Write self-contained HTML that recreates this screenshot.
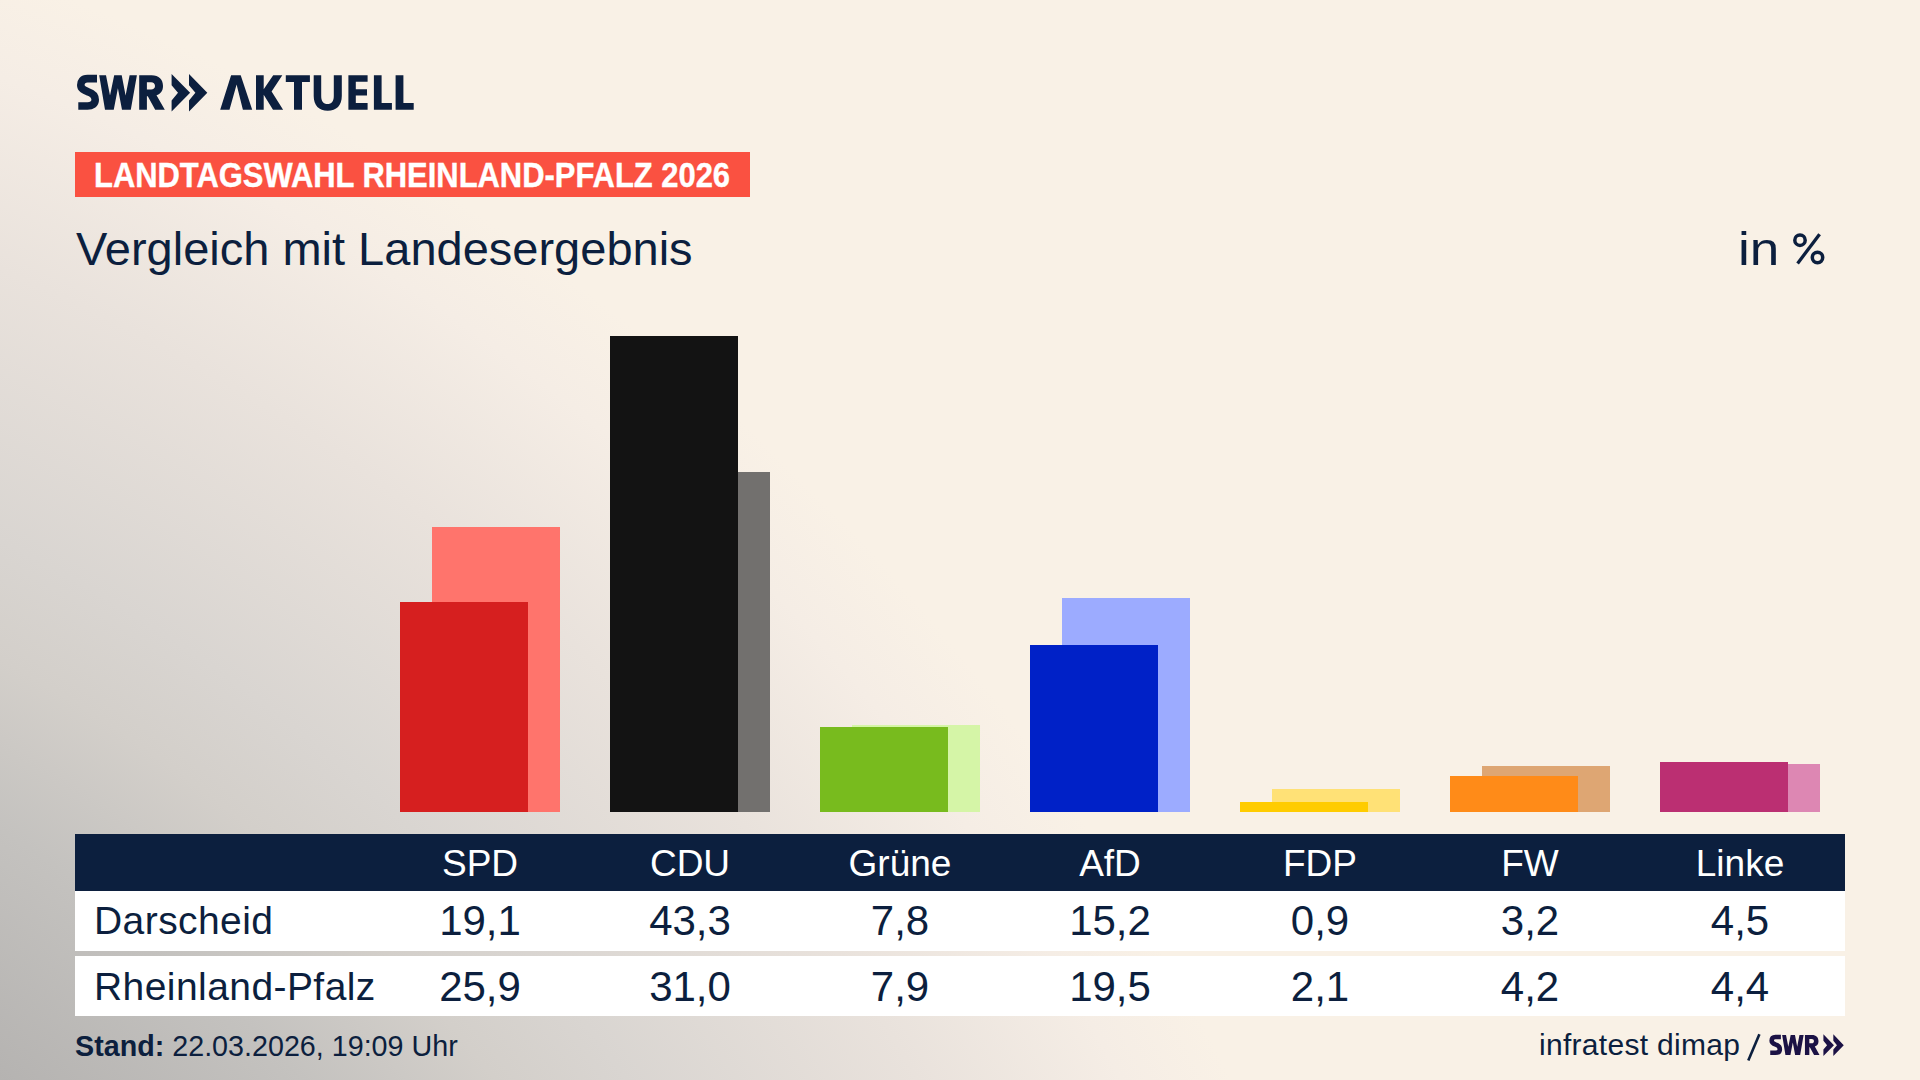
<!DOCTYPE html>
<html><head><meta charset="utf-8">
<style>
html,body{margin:0;padding:0;}
body{width:1920px;height:1080px;overflow:hidden;position:relative;
 font-family:"Liberation Sans",sans-serif;color:#0C1F3E;
 background:#F9F1E6;}
#bg{position:absolute;left:0;top:0;width:1920px;height:1080px;
 background:radial-gradient(circle 2200px at -747px 2041px,#A9A7A6 45%,#B5B3B1 55.3%,#C4C2BF 64.7%,#D3CFCA 71.4%,#D9D5D1 76.2%,#E9E2DC 87.4%,#F5EDE5 95.5%,#F9F1E6 100%);}
.abs{position:absolute;white-space:pre;}
#logo{position:absolute;left:0;top:0;}
#tag{position:absolute;left:75px;top:152px;width:675px;height:45px;background:#FA5141;}
#tagtxt{position:absolute;left:93.5px;top:154.5px;font-weight:bold;font-size:34.5px;color:#fff;line-height:40px;transform:scaleX(0.896);transform-origin:0 0;-webkit-text-stroke:0.4px #fff;}
#title{left:76px;top:222px;font-size:47px;line-height:54px;}
#unit{left:1737.5px;top:222px;font-size:47px;line-height:54px;}
.bar{position:absolute;}
#thead{position:absolute;left:75px;top:834px;width:1770px;height:57px;background:#0C1F3E;}
.row{position:absolute;left:75px;width:1770px;background:#fff;}
.hd{position:absolute;top:840.5px;width:210px;text-align:center;font-size:37px;line-height:46px;color:#fff;}
.num{position:absolute;width:210px;text-align:center;font-size:42px;line-height:48px;}
.lbl{position:absolute;left:94px;font-size:39px;line-height:48px;letter-spacing:0.43px;}
#foot1{left:75px;top:1029px;font-size:28.7px;line-height:34px;}
#foot2{left:1539px;top:1028px;font-size:30px;line-height:34px;letter-spacing:0.3px;}
</style></head><body>
<div id="bg"></div>

<svg id="logo" width="440" height="130" viewBox="0 0 440 130">
 <g fill="#0C1F3E">
  <path d="M97 78.6 H87.5 C82.5 78.6 80.8 81.5 80.8 85 C80.8 89 84 90.3 88.2 91.8 C92.8 93.3 95.2 95.5 95.2 99.8 C95.2 104 92 106 87.5 106 H78.3" fill="none" stroke="#0C1F3E" stroke-width="7.6"/>
  <polygon points="99.2,75.2 106,75.2 110,95.6 114.2,75.2 121.7,75.2 125.6,95.6 129.6,75.2 136.9,75.2 130.8,109.8 122,109.8 117.9,88.3 113.75,109.8 105,109.8"/>
  <path d="M139.2 75.2 H151.5 C159 75.2 163 79.5 163 86 C163 91 160.5 94 156.5 95.2 L164.8 109.8 H155.2 L147.8 96.3 H146.9 V109.8 H139.2 Z M146.9 82.3 V89.6 H151 C153.5 89.6 155 88.2 155 86 C155 83.7 153.5 82.3 151 82.3 Z" fill-rule="evenodd"/>
  <polygon points="171.6,74.1 190.1,92.8 171.6,111.4 171.6,100.5 178,92.8 171.6,85.2"/>
  <polygon points="189,74.1 207.3,92.8 189,111.4 189,100.5 195.4,92.8 189,85.2"/>
  <polygon points="220.2,109.8 231.1,75.2 240.7,75.2 252.2,109.8 242.9,109.8 236.6,84.4 229.5,109.8"/>
  <polygon points="256,75.2 263.7,75.2 263.7,89.3 273.2,75.2 282.3,75.2 271.6,91.5 283.1,109.8 273,109.8 263.7,94.8 263.7,109.8 256,109.8"/>
  <polygon points="285.8,75.2 309.9,75.2 309.9,81.9 302,81.9 302,109.8 294,109.8 294,81.9 285.8,81.9"/>
  <path d="M313.7 75.2 H321.2 V96 C321.2 101.5 323.5 104.1 327.5 104.1 C331.5 104.1 333.8 101.5 333.8 96 V75.2 H341.8 V96 C341.8 105.5 336.5 110.7 327.7 110.7 C319 110.7 313.7 105.5 313.7 96 Z"/>
  <polygon points="348.4,75.2 367.6,75.2 367.6,81.75 355.8,81.75 355.8,89.2 367,89.2 367,95.5 355.8,95.5 355.8,103 367.6,103 367.6,109.8 348.4,109.8"/>
  <polygon points="373.9,75.2 381.6,75.2 381.6,103 391.9,103 391.9,109.8 373.9,109.8"/>
  <polygon points="395.6,75.2 403.4,75.2 403.4,103 413.7,103 413.7,109.8 395.6,109.8"/>
 </g>
</svg>

<div id="tag"></div>
<div id="tagtxt" class="abs">LANDTAGSWAHL RHEINLAND-PFALZ 2026</div>
<div id="title" class="abs">Vergleich mit Landesergebnis</div>
<div id="unit" class="abs"><span style="display:inline-block;transform:scaleX(1.13);transform-origin:0 0">in</span></div>
<svg style="position:absolute;left:1780px;top:220px" width="60" height="60" viewBox="1780 220 60 60"><g fill="none" stroke="#0C1F3E" stroke-width="3.5"><circle cx="1800" cy="240.2" r="5.2"/><circle cx="1817.5" cy="257.5" r="5.2"/><line x1="1797.6" y1="263.4" x2="1819.6" y2="234.2" stroke-width="3.3" stroke-linecap="butt"/></g></svg>

<!-- bars: bottom 812, 11px per % -->
<div class="bar" style="left:432px;top:527px;width:128px;height:285px;background:#FF746C"></div>
<div class="bar" style="left:400px;top:602px;width:128px;height:210px;background:#D61F1F"></div>

<div class="bar" style="left:642px;top:472px;width:128px;height:340px;background:#72706E"></div>
<div class="bar" style="left:610px;top:336px;width:128px;height:476px;background:#131313"></div>

<div class="bar" style="left:852px;top:725px;width:128px;height:87px;background:#D5F5A7"></div>
<div class="bar" style="left:820px;top:727px;width:128px;height:85px;background:#78BB1E"></div>

<div class="bar" style="left:1062px;top:598px;width:128px;height:214px;background:#9CABFF"></div>
<div class="bar" style="left:1030px;top:645px;width:128px;height:167px;background:#0021C7"></div>

<div class="bar" style="left:1272px;top:789px;width:128px;height:23px;background:#FFE176"></div>
<div class="bar" style="left:1240px;top:802px;width:128px;height:10px;background:#FFCC00"></div>

<div class="bar" style="left:1482px;top:766px;width:128px;height:46px;background:#DEA673"></div>
<div class="bar" style="left:1450px;top:776px;width:128px;height:36px;background:#FF8B18"></div>

<div class="bar" style="left:1692px;top:764px;width:128px;height:48px;background:#DD87B3"></div>
<div class="bar" style="left:1660px;top:762px;width:128px;height:50px;background:#BB2F72"></div>

<div id="thead"></div>
<div class="row" style="top:891px;height:60px"></div>
<div class="row" style="top:956px;height:60px"></div>

<div class="hd" style="left:375px">SPD</div>
<div class="hd" style="left:585px">CDU</div>
<div class="hd" style="left:795px">Grüne</div>
<div class="hd" style="left:1005px">AfD</div>
<div class="hd" style="left:1215px">FDP</div>
<div class="hd" style="left:1425px">FW</div>
<div class="hd" style="left:1635px">Linke</div>

<div class="lbl" style="top:897px">Darscheid</div>
<div class="num" style="left:375px;top:897px">19,1</div>
<div class="num" style="left:585px;top:897px">43,3</div>
<div class="num" style="left:795px;top:897px">7,8</div>
<div class="num" style="left:1005px;top:897px">15,2</div>
<div class="num" style="left:1215px;top:897px">0,9</div>
<div class="num" style="left:1425px;top:897px">3,2</div>
<div class="num" style="left:1635px;top:897px">4,5</div>

<div class="lbl" style="top:963px">Rheinland-Pfalz</div>
<div class="num" style="left:375px;top:963px">25,9</div>
<div class="num" style="left:585px;top:963px">31,0</div>
<div class="num" style="left:795px;top:963px">7,9</div>
<div class="num" style="left:1005px;top:963px">19,5</div>
<div class="num" style="left:1215px;top:963px">2,1</div>
<div class="num" style="left:1425px;top:963px">4,2</div>
<div class="num" style="left:1635px;top:963px">4,4</div>

<div id="foot1" class="abs"><b>Stand:</b> 22.03.2026, 19:09 Uhr</div>
<div id="foot2" class="abs">infratest dimap</div>
<svg style="position:absolute;left:1740px;top:1028px" width="30" height="40" viewBox="1740 1028 30 40"><line x1="1748.3" y1="1060.6" x2="1759.4" y2="1034.2" stroke="#0C1F3E" stroke-width="2.6"/></svg>
<svg style="position:absolute;left:0;top:0" width="1920" height="1080" viewBox="0 0 1920 1080">
 <g fill="#1C1245" transform="translate(1769.6 1035) scale(0.57 0.578) translate(-77.2 -75.2)">
  <path d="M97 78.6 H87.5 C82.5 78.6 80.8 81.5 80.8 85 C80.8 89 84 90.3 88.2 91.8 C92.8 93.3 95.2 95.5 95.2 99.8 C95.2 104 92 106 87.5 106 H78.3" fill="none" stroke="#1C1245" stroke-width="8"/>
  <polygon points="99.2,75.2 106,75.2 110,95.6 114.2,75.2 121.7,75.2 125.6,95.6 129.6,75.2 136.9,75.2 130.8,109.8 122,109.8 117.9,88.3 113.75,109.8 105,109.8"/>
  <path d="M139.2 75.2 H151.5 C159 75.2 163 79.5 163 86 C163 91 160.5 94 156.5 95.2 L164.8 109.8 H155.2 L147.8 96.3 H146.9 V109.8 H139.2 Z M146.9 82.3 V89.6 H151 C153.5 89.6 155 88.2 155 86 C155 83.7 153.5 82.3 151 82.3 Z" fill-rule="evenodd"/>
  <polygon points="171.6,74.1 190.1,92.8 171.6,111.4 171.6,100.5 178,92.8 171.6,85.2"/>
  <polygon points="189,74.1 207.3,92.8 189,111.4 189,100.5 195.4,92.8 189,85.2"/>
 </g>
</svg>
</body></html>
